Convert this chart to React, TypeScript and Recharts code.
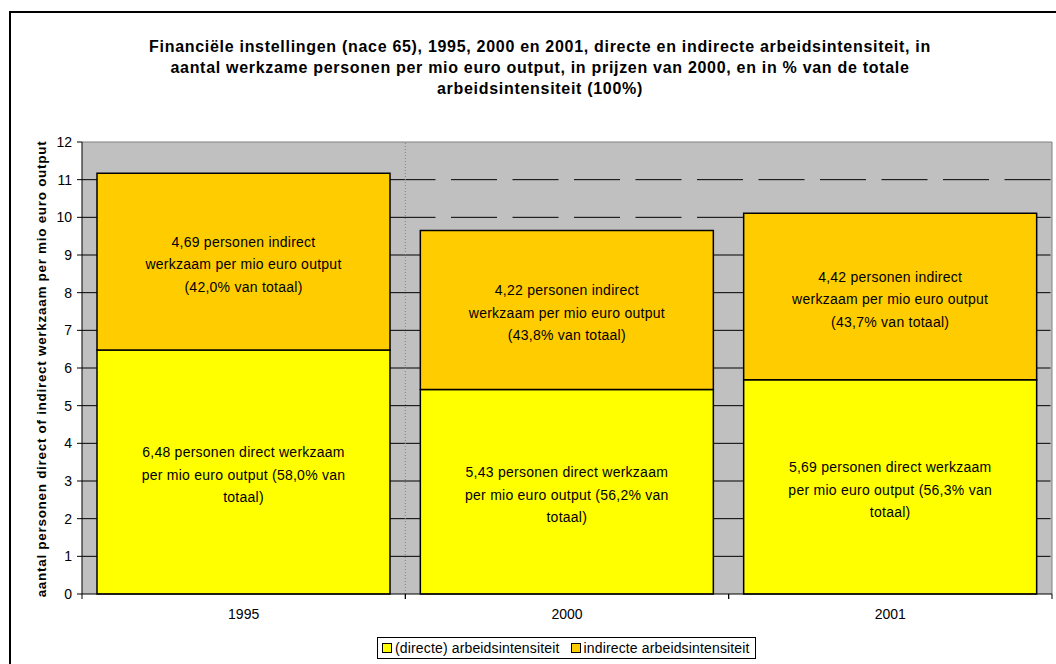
import React from 'react';
import {
  BarChart,
  Bar,
  XAxis,
  YAxis,
  CartesianGrid,
  ReferenceLine,
  Legend,
  LabelList,
  Label,
} from 'recharts';

const years = ['1995', '2000', '2001'];
const directValues = [6.48, 5.43, 5.69];
const indirectValues = [4.69, 4.22, 4.42];
const yTicks = [0, 1, 2, 3, 4, 5, 6, 7, 8, 9, 10, 11, 12];

const directLabels = [
  ['6,48 personen direct werkzaam', 'per mio euro output (58,0% van', 'totaal)'],
  ['5,43 personen direct werkzaam', 'per mio euro output (56,2% van', 'totaal)'],
  ['5,69 personen direct werkzaam', 'per mio euro output (56,3% van', 'totaal)'],
];
const indirectLabels = [
  ['4,69 personen indirect', 'werkzaam per mio euro output', '(42,0% van totaal)'],
  ['4,22 personen indirect', 'werkzaam per mio euro output', '(43,8% van totaal)'],
  ['4,42 personen indirect', 'werkzaam per mio euro output', '(43,7% van totaal)'],
];

const titleLines = [
  'Financiële instellingen (nace 65), 1995, 2000 en 2001, directe en indirecte arbeidsintensiteit, in',
  'aantal werkzame personen per mio euro output, in prijzen van 2000, en in % van de totale',
  'arbeidsintensiteit (100%)',
];

const FONT = '"Liberation Sans", Arimo, sans-serif';

const chartData = years.map((year, i) => ({
  year,
  direct: directValues[i],
  indirect: indirectValues[i],
}));

// multi-line text in the middle of a bar segment
const segmentLabel = (lines: string[][]) => (props: any) => {
  const vb = props.viewBox ?? props;
  const { x, y, width, height } = vb;
  const idx = props.index ?? 0;
  const rows = lines[idx] ?? [];
  const lh = 22.5;
  const cx = x + width / 2;
  const cy = y + height / 2 + 3;
  const startY = cy - ((rows.length - 1) * lh) / 2;
  return (
    <text textAnchor="middle" fontSize={14} letterSpacing={0.25} fill="#000" fontFamily={FONT}>
      {rows.map((r, k) => (
        <tspan key={k} x={cx} y={startY + k * lh} dy="0.35em">
          {r}
        </tspan>
      ))}
    </text>
  );
};

// excel style: tick marks between categories, label in the middle
const XTick = (props: any) => {
  const { x, y, payload } = props;
  const half = payload?.offset || 161.67;
  return (
    <g>
      <line x1={x - half} x2={x - half} y1={y} y2={y + 5} stroke="#000" />
      <line x1={x + half} x2={x + half} y1={y} y2={y + 5} stroke="#000" />
      <text x={x} y={y + 25} textAnchor="middle" fontSize={14} fill="#000" fontFamily={FONT}>
        {payload.value}
      </text>
    </g>
  );
};

// inner gridlines only, the top edge gets a solid grey line
const gridRows = ({ offset }: any) =>
  yTicks
    .filter((t) => t > 0 && t < 12)
    .map((t) => offset.top + offset.height * (1 - t / 12));

const LegendBox = (props: any) => {
  const items = props.payload ?? [];
  return (
    <div
      style={{
        border: '1px solid #000',
        background: '#fff',
        display: 'flex',
        alignItems: 'center',
        padding: '2px 5px 2px 4px',
        fontSize: 14,
        letterSpacing: 0.15,
        fontFamily: FONT,
        whiteSpace: 'nowrap',
        lineHeight: '16px',
      }}
    >
      {items.map((it: any, i: number) => (
        <span key={i} style={{ display: 'flex', alignItems: 'center', marginRight: i < items.length - 1 ? 11 : 0 }}>
          <span
            style={{
              display: 'inline-block',
              width: 8,
              height: 8,
              border: '1px solid #000',
              background: it.color,
              marginRight: 3,
            }}
          />
          {it.value}
        </span>
      ))}
    </div>
  );
};

export default function App() {
  return (
    <div
      style={{
        position: 'fixed',
        left: 0,
        top: 0,
        width: 1056,
        height: 664,
        background: '#fff',
        overflow: 'hidden',
        fontFamily: FONT,
      }}
    >
      <div
        style={{
          position: 'absolute',
          left: 9,
          top: 11,
          width: 1100,
          height: 700,
          border: '2px solid #000',
        }}
      />
      <div
        style={{
          position: 'absolute',
          left: 0,
          top: 36,
          width: 1080,
          textAlign: 'center',
          fontWeight: 'bold',
          fontSize: 16,
          letterSpacing: 0.7,
          lineHeight: '21px',
          color: '#000',
        }}
      >
        {titleLines.map((t, i) => (
          <div key={i}>{t}</div>
        ))}
      </div>
      <div style={{ position: 'absolute', left: 0, top: 0 }}>
        <BarChart
          width={1056}
          height={664}
          data={chartData}
          margin={{ top: 142, right: 4, bottom: 40, left: 52 }}
          barCategoryGap={15}
        >
          <CartesianGrid
            vertical={false}
            fill="#C0C0C0"
            fillOpacity={1}
            stroke="#000"
            strokeDasharray="46 15.5"
            horizontalCoordinatesGenerator={gridRows}
          />
          <XAxis
            dataKey="year"
            height={30}
            interval={0}
            tickSize={0}
            tickMargin={0}
            tickLine={false}
            axisLine={{ stroke: '#000' }}
            tick={<XTick />}
          />
          <YAxis
            width={30}
            domain={[0, 12]}
            ticks={yTicks}
            interval={0}
            tickSize={5}
            tickMargin={5}
            axisLine={{ stroke: '#000' }}
            tickLine={{ stroke: '#000' }}
            tick={{ fontSize: 14, fill: '#000', fontFamily: FONT }}
          >
            <Label
              content={() => (
                <text
                  x={41}
                  y={369}
                  transform="rotate(-90 41 369)"
                  textAnchor="middle"
                  dominantBaseline="central"
                  fontSize={13.5}
                  letterSpacing={0.7}
                  fontWeight="bold"
                  fill="#000"
                  fontFamily={FONT}
                >
                  aantal personen direct of indirect werkzaam per mio euro output
                </text>
              )}
            />
          </YAxis>
          <ReferenceLine y={12} stroke="#808080" />
          <ReferenceLine x="2001" position="end" stroke="#808080" />
          <ReferenceLine x="2000" position="start" stroke="#808080" strokeDasharray="1 2" />
          <Legend
            layout="horizontal"
            verticalAlign="middle"
            align="center"
            wrapperStyle={{ top: 637, left: 377, width: 'auto', height: 'auto' }}
            content={<LegendBox />}
          />
          <Bar
            dataKey="direct"
            name="(directe) arbeidsintensiteit"
            stackId="a"
            fill="#FFFF00"
            stroke="#000"
            strokeWidth={1.5}
            isAnimationActive={false}
          >
            <LabelList content={segmentLabel(directLabels)} />
          </Bar>
          <Bar
            dataKey="indirect"
            name="indirecte arbeidsintensiteit"
            stackId="a"
            fill="#FFCC00"
            stroke="#000"
            strokeWidth={1.5}
            isAnimationActive={false}
          >
            <LabelList content={segmentLabel(indirectLabels)} />
          </Bar>
        </BarChart>
      </div>
    </div>
  );
}
